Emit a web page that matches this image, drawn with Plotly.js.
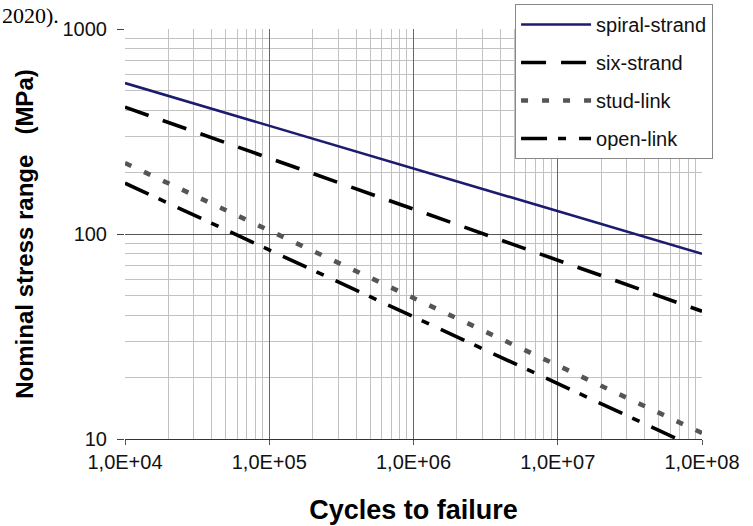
<!DOCTYPE html>
<html>
<head>
<meta charset="utf-8">
<script src="https://cdn.plot.ly/plotly-3.0.1.min.js"></script>
<style>
html,body{margin:0;padding:0;background:#fff;}
#chart{width:753px;height:526px;}
</style>
</head>
<body>
<div id="chart"></div>
<script>
// Cycles to failure (x) at the two ends of each S-N line
const cycles = [1e4, 1e8];
// Nominal stress range (MPa)
const spiralStrand = [545, 80];
const sixStrand = [416, 42];
const studLink = [222, 10.7];
const openLink = [177, 8.8];

const seriesNames = ["spiral-strand", "six-strand", "stud-link", "open-link"];
const xTickVals = [1e4, 1e5, 1e6, 1e7, 1e8];
const xTickText = ["1,0E+04", "1,0E+05", "1,0E+06", "1,0E+07", "1,0E+08"];
const yTickVals = [10, 100, 1000];
const yTickText = ["10", "100", "1000"];

const FONT = "Liberation Sans, Arial, sans-serif";

const traces = [
  {x: cycles, y: spiralStrand, name: seriesNames[0], legendgroup: "a",
   mode: "lines", line: {color: "#1b1b70", width: 2.6}},
  {x: cycles, y: sixStrand, name: seriesNames[1], legendgroup: "b",
   mode: "lines", line: {color: "#000000", width: 3.6, dash: "25px,15px"}},
  {x: cycles, y: studLink, name: seriesNames[2], legendgroup: "c",
   mode: "lines", line: {color: "#555555", width: 4.6, dash: "7px,14px"}},
  {x: cycles, y: openLink, name: seriesNames[3], legendgroup: "d",
   mode: "lines", line: {color: "#000000", width: 3.6, dash: "26px,11px,8px,13px"}}
];

const layout = {
  width: 753, height: 526,
  margin: {l: 125, r: 51, t: 29, b: 87, autoexpand: false},
  paper_bgcolor: "#ffffff", plot_bgcolor: "#ffffff",
  font: {family: FONT, color: "#111111", size: 20},
  showlegend: true,
  legend: {
    x: 0.676, y: 1.061, xanchor: "left", yanchor: "top",
    bgcolor: "#ffffff", bordercolor: "#888888", borderwidth: 1,
    font: {family: FONT, size: 20, color: "#111111"},
    itemwidth: 70, tracegroupgap: 9, traceorder: "grouped"
  },
  xaxis: {
    type: "log", range: [4, 8],
    tickvals: xTickVals, ticktext: xTickText,
    ticks: "outside", ticklen: 5, tickcolor: "#555",
    tickfont: {family: FONT, size: 20, color: "#111"},
    showgrid: true, gridcolor: "#666666", gridwidth: 1,
    minor: {dtick: "D1", showgrid: true, gridcolor: "#c2c2c2", gridwidth: 1, ticks: ""},
    showline: true, linecolor: "#333333", linewidth: 1.3,
    mirror: false, zeroline: false,
    title: {text: "Cycles to failure", standoff: 27,
            font: {family: FONT, size: 27, color: "#000", weight: "bold"}}
  },
  yaxis: {
    type: "log", range: [1, 3],
    tickvals: yTickVals, ticktext: yTickText,
    ticks: "outside", ticklen: 7, tickcolor: "#444",
    ticklabelstandoff: 6,
    tickfont: {family: FONT, size: 20, color: "#111"},
    showgrid: true, gridcolor: "#555555", gridwidth: 1,
    minor: {dtick: "D1", showgrid: true, gridcolor: "#c2c2c2", gridwidth: 1, ticks: ""},
    showline: false, zeroline: false,
    title: {text: "Nominal stress range   (MPa)", standoff: 22,
            font: {family: FONT, size: 24, color: "#000", weight: "bold"}}
  },
  annotations: [
    {text: "2020).", xref: "paper", yref: "paper", x: -0.2166, y: 1.0683,
     xanchor: "left", yanchor: "top", showarrow: false,
     font: {family: "Liberation Serif, Times New Roman, serif", size: 22, color: "#000"}}
  ]
};

Plotly.newPlot("chart", traces, layout, {displayModeBar: false, staticPlot: true});
</script>
</body>
</html>
